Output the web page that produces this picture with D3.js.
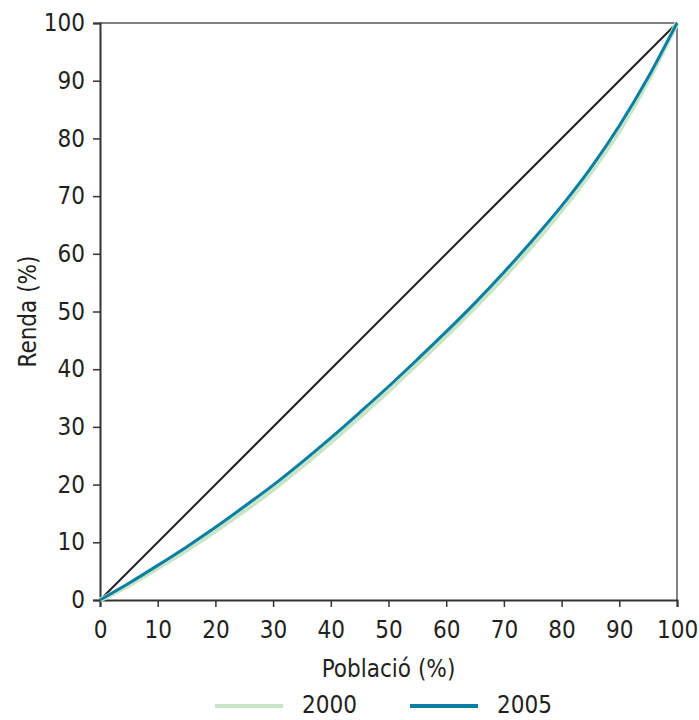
<!DOCTYPE html>
<html>
<head>
<meta charset="utf-8">
<script src="https://cdn.jsdelivr.net/npm/d3@7"></script>
<style>
  body { margin: 0; background: #fff; }
  svg text { font-family: "DejaVu Sans Condensed", "DejaVu Sans", sans-serif; fill: #231f20; }
</style>
</head>
<body>
<div id="chart"></div>
<script>
// population share (%) and cumulative income share (%)
const poblacio = [0, 5, 10, 15, 20, 25, 30, 35, 40, 45, 50, 55, 60, 65, 70, 75, 80, 85, 90, 95, 100];
const renda2000 = [0, 2.6, 5.6, 8.7, 12.0, 15.5, 19.2, 23.2, 27.4, 31.8, 36.3, 41.0, 45.8, 50.8, 56.0, 61.6, 67.6, 74.1, 81.4, 90.1, 100];
const renda2005 = [0, 2.9, 6.0, 9.2, 12.6, 16.2, 19.9, 23.9, 28.1, 32.5, 37.0, 41.7, 46.5, 51.5, 56.8, 62.4, 68.3, 74.8, 82.2, 90.6, 100];
const igualtat = [0, 100];
const ticks = [0, 10, 20, 30, 40, 50, 60, 70, 80, 90, 100];
const series = [
  { name: '2000', values: renda2000, color: '#c9e5c8', width: 5 },
  { name: '2005', values: renda2005, color: '#0b7fa3', width: 3 }
];

const width = 699, height = 720;
const margin = { top: 23, right: 22, bottom: 120, left: 100 };
const w = width - margin.left - margin.right;
const h = height - margin.top - margin.bottom;

const svg = d3.select('#chart').append('svg')
  .attr('width', width)
  .attr('height', height);

const g = svg.append('g')
  .attr('transform', `translate(${margin.left},${margin.top})`);

const x = d3.scaleLinear().domain([0, 100]).range([0, w]);
const y = d3.scaleLinear().domain([0, 100]).range([h, 0]);

// frame top / right
g.append('line').attr('x1', 0).attr('x2', w).attr('y1', 0).attr('y2', 0)
  .attr('stroke', '#58595b').attr('stroke-width', 1.5);
g.append('line').attr('x1', w).attr('x2', w).attr('y1', 0).attr('y2', h)
  .attr('stroke', '#58595b').attr('stroke-width', 1.5);

// axes
const xAxis = g.append('g')
  .attr('transform', `translate(0,${h})`)
  .call(d3.axisBottom(x).tickValues(ticks).tickSize(7).tickPadding(14));
const yAxis = g.append('g')
  .call(d3.axisLeft(y).tickValues(ticks).tickSize(7).tickPadding(8));

[xAxis, yAxis].forEach(a => {
  a.select('.domain').attr('stroke', '#333').attr('stroke-width', 2);
  a.selectAll('.tick line').attr('stroke', '#333').attr('stroke-width', 1.5);
  a.selectAll('.tick text').attr('font-size', '24px')
    .attr('font-family', '"DejaVu Sans Condensed", "DejaVu Sans", sans-serif')
    .attr('fill', '#231f20');
});
xAxis.selectAll('.tick text').attr('dy', '0.71em');

const line = d3.line()
  .x((d, i) => x(poblacio[i]))
  .y(d => y(d))
  .curve(d3.curveMonotoneX);

// equality line
g.append('line')
  .attr('x1', x(igualtat[0])).attr('y1', y(igualtat[0]))
  .attr('x2', x(igualtat[1])).attr('y2', y(igualtat[1]))
  .attr('stroke', '#231f20').attr('stroke-width', 2);

g.selectAll('.serie')
  .data(series)
  .join('path')
    .attr('class', 'serie')
    .attr('fill', 'none')
    .attr('stroke', d => d.color)
    .attr('stroke-width', d => d.width)
    .attr('d', d => line(d.values));

// axis titles
svg.append('text')
  .attr('x', margin.left + w / 2)
  .attr('y', 677)
  .attr('text-anchor', 'middle')
  .attr('font-size', '24px')
  .text('Població (%)');

svg.append('text')
  .attr('transform', `translate(36,${margin.top + h / 2}) rotate(-90)`)
  .attr('text-anchor', 'middle')
  .attr('font-size', '24px')
  .text('Renda (%)');

// legend
const legend = svg.append('g');
const legX = [215, 410];
series.forEach((s, i) => {
  legend.append('line')
    .attr('x1', legX[i]).attr('x2', legX[i] + 68)
    .attr('y1', 706).attr('y2', 706)
    .attr('stroke', s.color).attr('stroke-width', 4);
  legend.append('text')
    .attr('x', legX[i] + 87).attr('y', 713)
    .attr('font-size', '24px')
    .text(s.name);
});
</script>
</body>
</html>
